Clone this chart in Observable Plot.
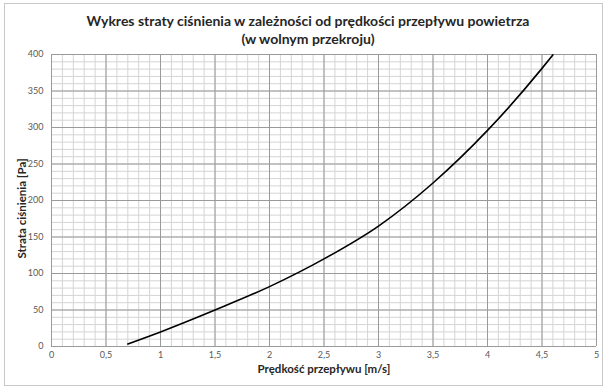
<!DOCTYPE html>
<html>
<head>
<meta charset="utf-8">
<script src="https://cdn.jsdelivr.net/npm/d3@7"></script>
<script src="https://cdn.jsdelivr.net/npm/@observablehq/plot@0.6"></script>
<style>
  body { margin: 0; background: #fff; }
  #wrap { position: relative; width: 611px; height: 392px; }
  #border { position: absolute; left: 4px; top: 3px; width: 599px; height: 383px; border: 1px solid #c8c8c8; box-sizing: border-box; pointer-events: none; }
  #chart { position: absolute; left: 0; top: 0; }
</style>
</head>
<body>
<div id="wrap"><div id="chart"></div><div id="border"></div></div>
<script>
const titleLines = ["Wykres straty ciśnienia w zależności od prędkości przepływu powietrza", "(w wolnym przekroju)"];
const xLabel = "Prędkość przepływu [m/s]";
const yLabel = "Strata ciśnienia [Pa]";
const velocity = [0.7, 1.0, 1.5, 2.0, 2.5, 3.0, 3.5, 4.0, 4.5, 4.6];
const pressure = [3.5, 20, 50, 82, 120, 165, 224, 296, 381, 399.5];
const xTicks = [0, 0.5, 1, 1.5, 2, 2.5, 3, 3.5, 4, 4.5, 5];
const yTicks = [0, 50, 100, 150, 200, 250, 300, 350, 400];
const xMinor = d3.range(0, 51).map(i => i / 10);
const yMinor = d3.range(0, 41).map(i => i * 10);

const data = velocity.map((v, i) => ({v, p: pressure[i]}));
const fmt = d => String(d).replace(".", ",");
const font = "Lato, 'Open Sans', sans-serif";

const chart = Plot.plot({
  width: 611,
  height: 392,
  marginLeft: 51,
  marginRight: 15,
  marginTop: 54,
  marginBottom: 46,
  style: {fontFamily: font, background: "white", overflow: "visible"},
  x: {domain: [0, 5]},
  y: {domain: [0, 400]},
  marks: [
    Plot.ruleX(xMinor, {stroke: "#d4d4d4", strokeWidth: 1}),
    Plot.ruleY(yMinor, {stroke: "#d4d4d4", strokeWidth: 1}),
    Plot.ruleX(xTicks, {stroke: "#9a9a9a", strokeWidth: 1}),
    Plot.ruleY(yTicks, {stroke: "#9a9a9a", strokeWidth: 1}),
    Plot.axisX({ticks: xTicks, tickFormat: fmt, tickSize: 0, tickPadding: 5, fontSize: 9, color: "#595959", label: null}),
    Plot.axisY({ticks: yTicks, tickFormat: fmt, tickSize: 0, tickPadding: 8, fontSize: 9, color: "#595959", label: null}),
    Plot.line(data, {x: "v", y: "p", stroke: "black", strokeWidth: 1.6, curve: "monotone-x"}),
    Plot.text([titleLines[0]], {frameAnchor: "top", textAnchor: "middle", dx: -16, dy: -38, text: d => d, fontSize: 14, fontWeight: "bold", fill: "#262626"}),
    Plot.text([titleLines[1]], {frameAnchor: "top", textAnchor: "middle", dx: -16, dy: -20, text: d => d, fontSize: 14, fontWeight: "bold", fill: "#262626"}),
    Plot.text([xLabel], {frameAnchor: "bottom", textAnchor: "middle", dy: 26, text: d => d, fontSize: 11.5, fontWeight: "bold", fill: "#262626"}),
    Plot.text([yLabel], {frameAnchor: "left", textAnchor: "middle", dx: -29, dy: 8, rotate: -90, text: d => d, fontSize: 11.5, fontWeight: "bold", fill: "#262626"})
  ]
});
document.getElementById("chart").appendChild(chart);
</script>
</body>
</html>
